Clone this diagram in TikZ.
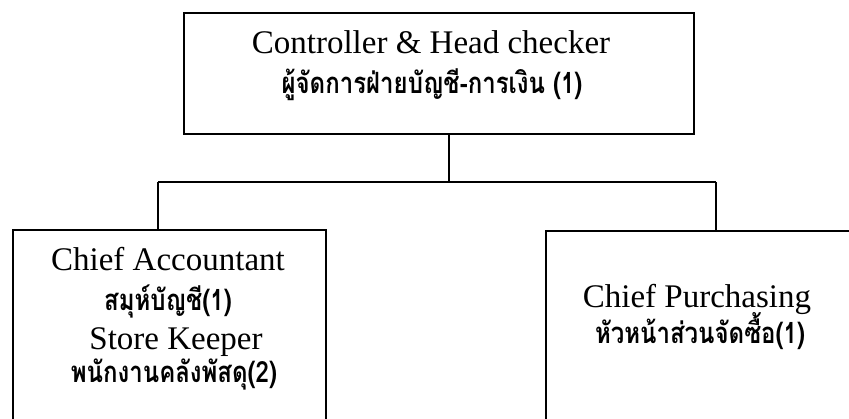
\documentclass[tikz,border=0pt]{standalone}
\usepackage{fontspec}
\setmainfont{Liberation Serif}
\newfontfamily\thaifont[Script=Thai]{Loma}
\newcommand{\thtall}[1]{\scalebox{1}[1.22]{#1}}
\begin{document}
\begin{tikzpicture}[x=1pt,y=-1pt,
  box/.style={draw=black, line width=1.6pt, rectangle, inner sep=0pt, anchor=north west},
  conn/.style={draw=black, line width=1.6pt},
  en/.style={font=\fontsize{33}{36}\selectfont, inner sep=0pt, anchor=base},
  th/.style={font=\thaifont\bfseries\fontsize{24}{28}\selectfont, inner sep=0pt, anchor=base}]
\useasboundingbox (0,0) rectangle (849,418);
\clip (0,0) rectangle (849,418);
\fill[white] (0,0) rectangle (849,418);
% boxes
\node[box, minimum width=510pt, minimum height=121pt] (top) at (183,12) {};
\node[box, minimum width=313pt, minimum height=210pt] (left) at (12,229) {};
\node[box, minimum width=330pt, minimum height=210pt] (right) at (545,230) {};
% texts
\node[en] (t1) at (431,53) {Controller \& Head checker};
\node[th] (t2) at (432,93) {\thtall{ผู้จัดการฝ่ายบัญชี-การเงิน (1)}};
\node[en] (l1) at (168,270) {Chief Accountant};
\node[th] (l2) at (168,310) {\thtall{สมุห์บัญชี(1)}};
\node[en] (l3) at (176,349) {Store Keeper};
\node[th] (l4) at (174,382) {\thtall{พนักงานคลังพัสดุ(2)}};
\node[en] (r1) at (697,307) {Chief Purchasing};
\node[th] (r2) at (700,343) {\thtall{หัวหน้าส่วนจัดซื้อ(1)}};
% connectors
\coordinate (j) at (449,182);
\coordinate (lj) at (158,182);
\coordinate (rj) at (716,182);
\draw[conn] (top.south -| j) -- (j);
\draw[conn] (lj) -- (rj);
\draw[conn] (lj) -- (left.north -| lj);
\draw[conn] (rj) -- (right.north -| rj);
\end{tikzpicture}
\end{document}
